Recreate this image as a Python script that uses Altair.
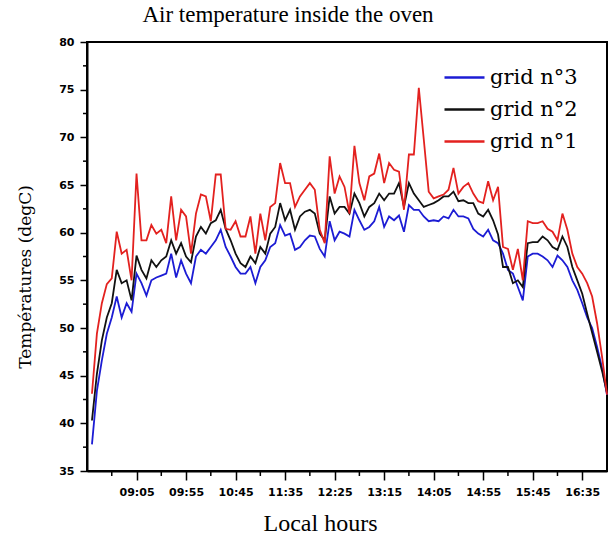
import altair as alt
import pandas as pd

# sampling: first reading at 08:20, one reading every 5 minutes (minutes since midnight)
START_MIN = 500
STEP_MIN = 5

grid1_red = [43.1, 49.4, 52.6, 54.6, 55.2, 60.1, 57.8, 58.2, 55.0, 66.2,
             59.2, 59.2, 60.8, 59.9, 60.3, 58.9, 63.8, 59.2, 62.4, 61.7,
             57.8, 62.0, 64.0, 63.8, 61.2, 66.1, 66.1, 60.4, 60.3, 61.2,
             59.6, 59.6, 61.7, 57.8, 62.0, 59.2, 62.7, 63.1, 67.3, 65.2,
             65.2, 62.7, 63.8, 64.5, 65.2, 64.5, 60.3, 58.9, 68.0, 64.1,
             65.9, 64.8, 62.0, 69.1, 65.2, 63.4, 65.9, 66.2, 68.3, 65.2,
             67.3, 66.6, 66.4, 62.4, 68.2, 68.2, 75.2, 69.8, 64.3, 63.6,
             63.8, 64.0, 64.5, 66.8, 64.1, 64.8, 65.2, 64.1, 63.3, 63.1,
             65.4, 63.4, 64.8, 58.5, 58.3, 56.1, 58.3, 55.0, 61.2, 61.0,
             61.0, 61.2, 60.4, 60.1, 59.2, 62.0, 60.3, 57.8, 56.4, 55.7,
             54.7, 53.3, 50.5, 47.0, 43.0]

grid2_black = [40.3, 45.2, 48.7, 51.1, 52.6, 56.1, 54.7, 55.0, 52.9, 57.6,
               56.1, 55.2, 57.1, 56.4, 57.1, 57.5, 59.2, 57.8, 58.9, 57.5,
               56.9, 59.6, 60.6, 59.9, 61.0, 61.3, 62.4, 60.4, 59.2, 57.8,
               56.8, 56.4, 57.5, 56.8, 58.5, 57.8, 59.9, 60.6, 63.1, 61.3,
               62.4, 60.3, 61.7, 62.2, 62.4, 62.0, 59.9, 59.2, 63.8, 62.0,
               62.7, 62.7, 62.0, 64.1, 63.1, 61.7, 62.7, 63.1, 64.1, 63.4,
               64.1, 64.1, 65.2, 62.7, 65.2, 64.1, 63.4, 62.7, 62.9, 63.1,
               63.4, 63.8, 63.8, 64.3, 63.3, 63.4, 63.1, 63.1, 62.0, 61.7,
               62.4, 61.3, 59.8, 56.4, 56.4, 54.7, 55.0, 54.3, 58.9, 59.0,
               59.0, 59.6, 59.2, 58.5, 58.2, 59.6, 58.5, 56.4, 55.0, 53.6,
               51.5, 49.5, 47.5, 45.5, 43.2]

grid3_blue = [37.8, 43.4, 46.6, 49.4, 51.1, 53.3, 51.1, 52.6, 51.7, 55.7,
              54.7, 53.4, 55.0, 55.3, 55.5, 55.7, 57.8, 55.3, 57.1, 55.7,
              54.7, 57.5, 58.2, 57.8, 58.5, 59.2, 60.3, 58.5, 57.5, 56.4,
              55.7, 55.7, 56.4, 54.7, 56.4, 57.1, 58.5, 58.9, 60.8, 59.7,
              59.9, 58.2, 58.5, 59.2, 59.7, 59.6, 58.3, 57.5, 61.2, 59.2,
              60.1, 59.9, 59.6, 62.4, 61.3, 60.3, 60.6, 61.2, 62.7, 60.6,
              61.7, 61.3, 61.8, 60.1, 62.9, 62.4, 62.4, 61.7, 61.2, 61.3,
              61.2, 61.7, 61.5, 62.4, 61.7, 61.7, 61.5, 60.4, 59.9, 59.6,
              60.3, 59.2, 58.9, 57.8, 56.1, 55.7, 54.3, 52.9, 57.5, 57.8,
              57.8, 57.5, 57.1, 56.4, 57.6, 57.1, 56.4, 55.0, 54.0, 52.6,
              51.1, 50.0, 48.0, 45.8, 43.0]

series_names = ["grid n°3", "grid n°2", "grid n°1"]
series_colors = ["#1c1cd4", "#111111", "#e3211f"]
series_values = [grid3_blue, grid2_black, grid1_red]

x_domain = [495, 1020]          # 08:15 .. 17:00
x_major = [545, 595, 645, 695, 745, 795, 845, 895, 945, 995]
x_minor = [520, 570, 620, 670, 720, 770, 820, 870, 920, 970]
y_domain = [35, 80]
y_major = [35, 40, 45, 50, 55, 60, 65, 70, 75, 80]
y_minor = [37.5, 42.5, 47.5, 52.5, 57.5, 62.5, 67.5, 72.5, 77.5]

rows = []
for name, vals in zip(series_names, series_values):
    for i, v in enumerate(vals):
        rows.append({"series": name, "minute": START_MIN + STEP_MIN * i, "temp": v})
df = pd.DataFrame(rows)

W, H = 520, 429

label_expr = ("(floor(datum.value/60) < 10 ? '0' : '') + floor(datum.value/60) + ':' + "
              "(datum.value % 60 < 10 ? '0' : '') + (datum.value % 60)")

x_axis = alt.Axis(values=x_major, labelExpr=label_expr, title="Local hours",
                  tickSize=9, labelPadding=6, titlePadding=14,
                  titleFont="Liberation Serif", titleFontSize=24,
                  titleFontWeight="normal", titleX=233)
y_axis = alt.Axis(values=y_major, title="Températures (degC)",
                  tickSize=7, labelPadding=6,
                  titleFont="DejaVu Serif", titleFontSize=17,
                  titleFontWeight="normal", titleX=-62, titleY=H / 2 + 20,
                  titleAngle=-90, titleAlign="center", titleBaseline="middle")
x_scale = alt.Scale(domain=x_domain, nice=False, zero=False)
y_scale = alt.Scale(domain=y_domain, nice=False, zero=False)

x_enc = alt.X("minute:Q", scale=x_scale, axis=x_axis)
y_enc = alt.Y("temp:Q", scale=y_scale, axis=y_axis)
color_enc = alt.Color("series:N",
                      scale=alt.Scale(domain=series_names, range=series_colors),
                      legend=alt.Legend(title=None, orient="none", legendX=356, legendY=14,
                                        symbolType="stroke", symbolSize=1600,
                                        symbolStrokeWidth=2.5, rowPadding=-10,
                                        labelFont="DejaVu Serif", labelFontSize=21,
                                        labelColor="black", labelOffset=4))

base = alt.Chart(df)
line_layers = [
    base.transform_filter(alt.datum.series == name)
        .mark_line(strokeWidth=1.8)
        .encode(x=x_enc, y=y_enc, color=color_enc)
    for name in series_names
]

xminor = alt.Chart(pd.DataFrame({"minute": x_minor})).mark_rule(
    color="black", strokeWidth=1.5).encode(
    x=x_enc, y=alt.value(H), y2=alt.value(H + 5))

yminor = alt.Chart(pd.DataFrame({"temp": y_minor})).mark_rule(
    color="black", strokeWidth=1.5).encode(
    y=y_enc, x=alt.value(0), x2=alt.value(-4))

chart = alt.layer(*line_layers, xminor, yminor).properties(
    width=W, height=H,
    title=alt.TitleParams("Air temperature inside the oven", font="Liberation Serif",
                          fontSize=23, fontWeight="normal", anchor="middle", dx=-59,
                          offset=9, color="black"),
    autosize=alt.AutoSizeParams(type="none"),
    padding={"left": 87, "top": 42, "right": 4, "bottom": 68},
    background="white",
).configure_view(
    stroke="black", strokeWidth=2
).configure_axis(
    domainColor="black", domainWidth=2, tickColor="black", tickWidth=1.5,
    labelFont="DejaVu Sans", labelFontWeight="bold", labelFontSize=11,
    labelColor="black", titleColor="black", grid=False
)

chart.save("out.html", embed_options={"renderer": "svg", "actions": False})
